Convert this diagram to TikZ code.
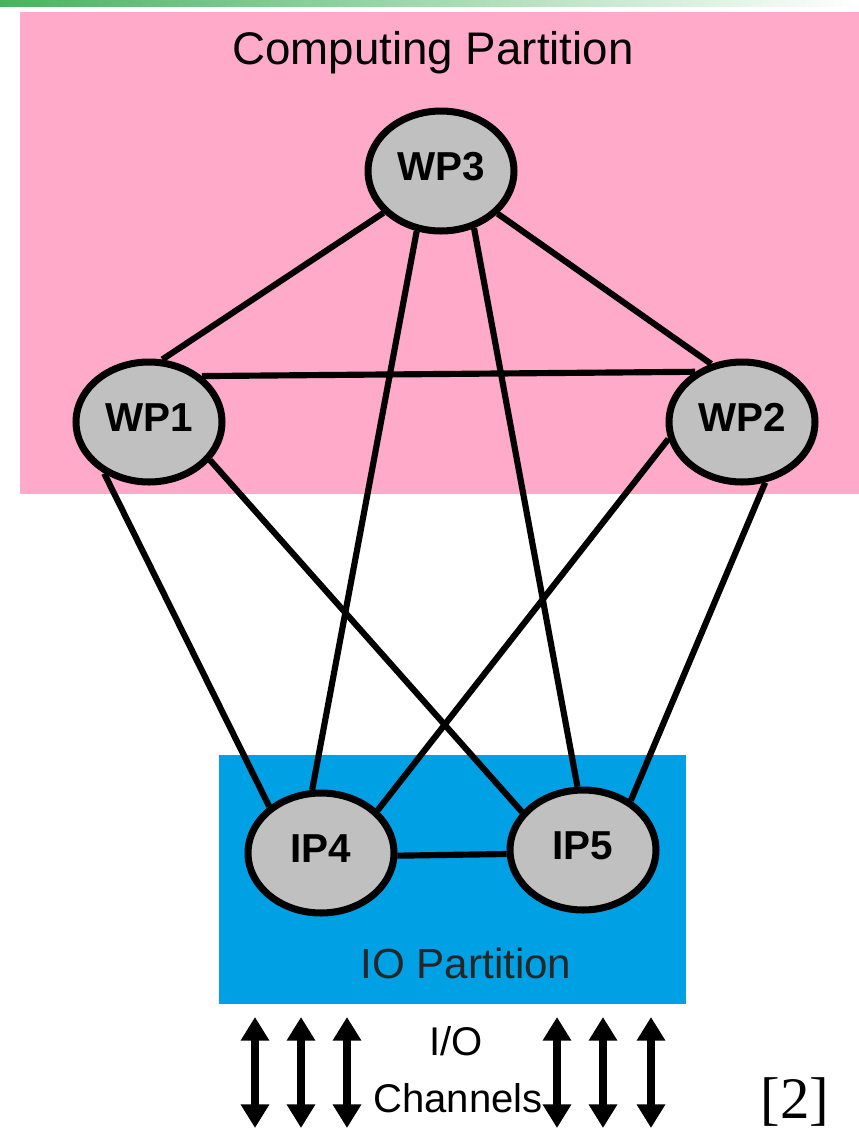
\documentclass[tikz,border=0pt]{standalone}
\usepackage{fontspec}
\setmainfont{Liberation Sans}
\newfontfamily\refserif{Liberation Serif}
\usetikzlibrary{shapes.geometric,arrows.meta}

\definecolor{pinkzone}{RGB}{255,170,200}
\definecolor{bluezone}{RGB}{0,160,228}
\definecolor{nodegray}{RGB}{192,192,192}
\definecolor{topgreen}{RGB}{70,180,95}

\pgfdeclarelayer{zones}
\pgfdeclarelayer{edges}
\pgfsetlayers{zones,edges,main}

% processor label, set a little above the ellipse centre
\newcommand{\plabel}[1]{\raisebox{0.18cm}{#1}}

\begin{document}
\begin{tikzpicture}[x=0.02cm,y=-0.02cm,
  proc/.style={ellipse, draw=black, line width=4pt, fill=nodegray,
    minimum width=2.92cm, minimum height=2.40cm, inner sep=0pt,
    font=\fontsize{23}{27}\selectfont\bfseries},
  link/.style={line width=3.5pt, draw=black},
  zonelabel/.style={anchor=base, inner sep=0pt, font=\fontsize{24}{28}\selectfont},
  chanlabel/.style={anchor=base, inner sep=0pt, font=\fontsize{22.8}{27}\selectfont},
  chan/.style={line width=4pt,
    {Triangle[width=15.5pt,length=13.5pt]}-{Triangle[width=15.5pt,length=13.5pt]}}
]
\useasboundingbox (0,0) rectangle (859,1130);

% partitions and header strip
\begin{pgfonlayer}{zones}
  \shade[left color=topgreen, middle color=topgreen!55!white, right color=white]
    (0,0) rectangle (859,6);
  \fill[pinkzone] (20,12) rectangle (859,494);
  \fill[bluezone] (219,755) rectangle (686,1004);
\end{pgfonlayer}

% processors
\node[proc] (wp3) at (441,171) {\plabel{WP3}};
\node[proc] (wp1) at (149,422) {\plabel{WP1}};
\node[proc] (wp2) at (742,422) {\plabel{WP2}};
\node[proc] (ip4) at (321,853) {\plabel{IP4}};
\node[proc] (ip5) at (583,850) {\plabel{IP5}};

% labels
\node[zonelabel, font=\fontsize{26}{30}\selectfont] (cplabel) at (433,64) {Computing Partition};
\node[zonelabel, text=black!85] (iolabel) at (466,978) {IO Partition};
\node[chanlabel] (iotop) at (456,1055) {I/O};
\node[chanlabel] (iobot) at (458,1112) {Channels};
\node[anchor=base, inner sep=0pt, font=\refserif\fontsize{33.5}{38}\selectfont] (ref) at (795,1118) {[2]};

% interconnect
\begin{pgfonlayer}{edges}
  \draw[link] (wp3.216) -- (wp1.78);
  \draw[link] (wp3.323) -- (wp2.118);
  \draw[link] (wp3.248) -- (ip4.98);
  \draw[link] (wp3.300) -- (ip5.95);
  \draw[link] (wp1.41)  -- (wp2.133);
  \draw[link] (wp1.229) -- (ip4.138);
  \draw[link] (wp1.328) -- (ip5.148);
  \draw[link] (wp2.193) -- (ip4.37);
  \draw[link] (wp2.291) -- (ip5.46);
  \draw[link] (ip4.358) -- (ip5.183);
\end{pgfonlayer}

% I/O channels
\foreach \cx [count=\k] in {255,301,347,557,603,651} {
  \coordinate (ch\k top) at (\cx,1017);
  \coordinate (ch\k bot) at (\cx,1128);
  \draw[chan] (ch\k top) -- (ch\k bot);
}
\end{tikzpicture}
\end{document}
